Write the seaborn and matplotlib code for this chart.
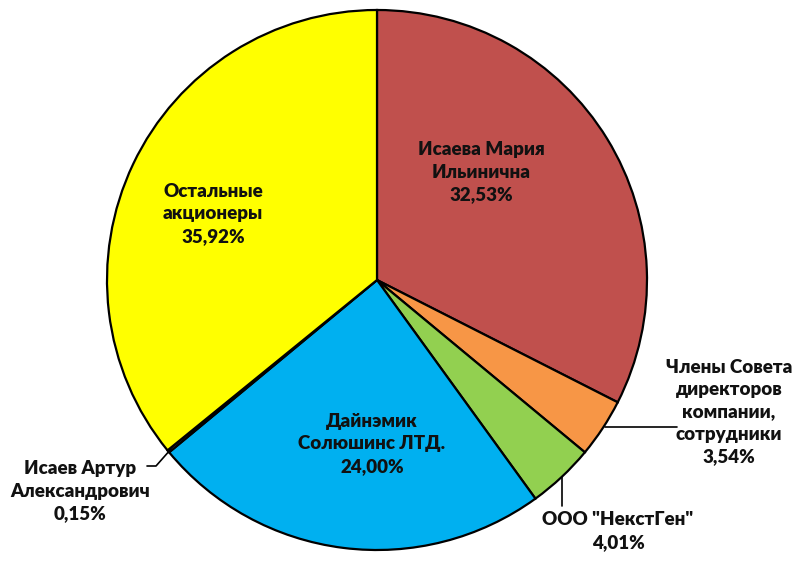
import matplotlib
matplotlib.use("Agg")
import matplotlib.pyplot as plt
import seaborn as sns

sns.set_theme(style="white")
plt.rcParams['font.family'] = ['Lato', 'DejaVu Sans']

names = ["Исаева Мария\nИльинична", "Члены Совета\nдиректоров\nкомпании,\nсотрудники",
         "ООО \"НекстГен\"", "Дайнэмик\nСолюшинс ЛТД.", "Исаев Артур\nАлександрович",
         "Остальные\nакционеры"]
shares = [32.53, 3.54, 4.01, 24.00, 0.15, 35.92]
pct_labels = ["32,53%", "3,54%", "4,01%", "24,00%", "0,15%", "35,92%"]
colors = ["#C0504D", "#F79646", "#92D050", "#00B0F0", "#7F6084", "#FFFF00"]

W, H = 800, 563
fig = plt.figure(figsize=(8, 5.63), dpi=100)
ax = fig.add_axes([0, 0, 1, 1])
ax.set_xlim(0, W)
ax.set_ylim(0, H)
ax.set_aspect('equal')
ax.axis('off')

def py(y):
    return H - y

cx, cy, r = 377, py(280), 270
ax.pie(shares, colors=colors, startangle=90, counterclock=False,
       center=(cx, cy), radius=r, frame=True,
       wedgeprops=dict(edgecolor="black", linewidth=1.6))
ax.set_xlim(0, W)
ax.set_ylim(0, H)
ax.axis('off')

fs = 13.5
tk = dict(fontsize=fs, fontweight='heavy', color='#111111', linespacing=1.38)

# inside labels
ax.text(481, py(172), f"{names[0]}\n{pct_labels[0]}", ha='center', va='center', **tk)
ax.text(372, py(444), f"{names[3]}\n{pct_labels[3]}", ha='center', va='center', **tk)
ax.text(213, py(214), f"{names[5]}\n{pct_labels[5]}", ha='center', va='center', **tk)

# outside labels
ax.text(729, py(412), f"{names[1]}\n{pct_labels[1]}", ha='center', va='center', **tk)
ax.plot([605, 677], [py(427), py(427)], color='black', lw=1.2)

ax.text(618, py(531), f"{names[2]}\n{pct_labels[2]}", ha='center', va='center', **tk)
ax.plot([562, 562], [py(477), py(506)], color='black', lw=1.2)

ax.text(80, py(491), f"{names[4]}\n{pct_labels[4]}", ha='center', va='center', **tk)
ax.plot([171, 156, 147], [py(449), py(466), py(466)], color='black', lw=1.2)

fig.savefig("out.png", dpi=100, facecolor='white')
